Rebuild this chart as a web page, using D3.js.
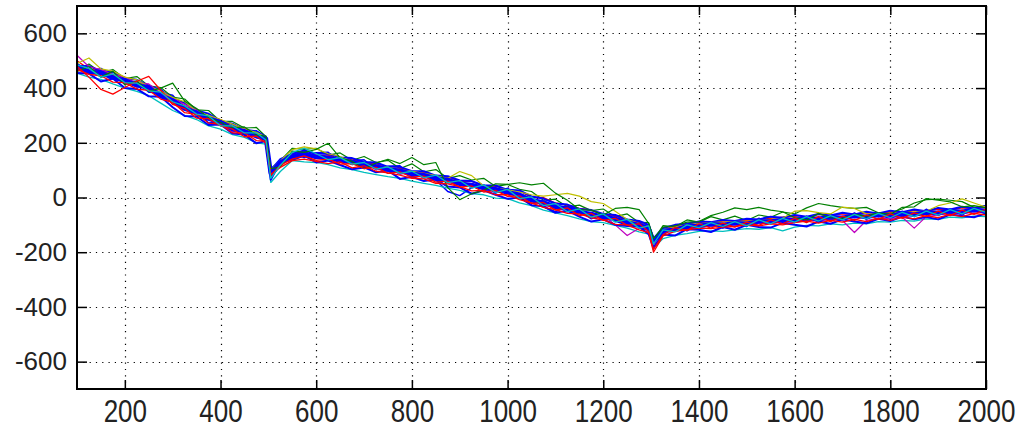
<!DOCTYPE html>
<html>
<head>
<meta charset="utf-8">
<script src="https://cdn.jsdelivr.net/npm/d3@7"></script>
<style>
  html, body { margin: 0; padding: 0; background: #fff; }
  svg { display: block; }
  .tick text { font-family: "Liberation Sans", Arial, sans-serif; font-size: 26px; fill: #222; }
</style>
</head>
<body>
<svg id="chart" width="1018" height="429"></svg>
<script>
// sample positions along the x axis (denser around the two steps)
const xs = [100, 125, 150, 175, 200, 225, 250, 275, 300, 325, 350, 375, 400, 425, 450, 475, 495, 505,
  525, 550, 575, 600, 625, 650, 675, 700, 725, 750, 775, 800, 825, 850, 875, 900, 925, 950, 975, 1000,
  1025, 1050, 1075, 1100, 1125, 1150, 1175, 1200, 1225, 1250, 1275, 1295, 1305,
  1325, 1350, 1375, 1400, 1425, 1450, 1475, 1500, 1525, 1550, 1575, 1600, 1625, 1650, 1675, 1700,
  1725, 1750, 1775, 1800, 1825, 1850, 1875, 1900, 1925, 1950, 1975, 2000];

const xTicks = [200, 400, 600, 800, 1000, 1200, 1400, 1600, 1800, 2000];
const yTicks = [-600, -400, -200, 0, 200, 400, 600];

const blueMean = [478, 460, 455, 438, 428, 410, 402, 372, 355, 325,
  310, 288, 275, 250, 242, 224, 215, 88, 128, 150,
  160, 148, 145, 135, 130, 118, 114, 102, 98, 86,
  82, 70, 64, 50, 46, 34, 30, 18, 10, -10,
  -18, -34, -40, -54, -60, -72, -78, -92, -100, -114,
  -160, -122, -118, -106, -104, -98, -100, -94, -96, -88,
  -88, -82, -82, -76, -78, -72, -74, -68, -70, -64,
  -66, -60, -62, -55, -56, -50, -52, -46, -48];

const blueA = [490, 458, 472, 445, 415, 424, 385, 384, 374, 322,
  318, 272, 277, 268, 228, 244, 218, 75, 115, 160,
  146, 164, 165, 129, 134, 138, 102, 114, 116, 76,
  90, 64, 22, 7, 36, 46, 16, 34, -2, 0,
  -34, -52, -30, -48, -78, -60, -86, -102, -95, -102,
  -180, -137, -105, -122, -90, -94, -112, -86, -106, -76,
  -96, -75, -92, -68, -90, -62, -82, -56, -80, -56,
  -80, -50, -70, -43, -66, -42, -64, -36, -54];

const blueB = [455, 453, 424, 435, 400, 397, 370, 368, 330, 298,
  296, 265, 267, 234, 230, 198, 206, 65, 130, 137,
  153, 128, 135, 119, 103, 110, 92, 99, 68, 76,
  60, 66, 40, 37, 14, 26, 10, -5, 0, -28,
  -32, -56, -48, -70, -88, -80, -100, -104, -107, -134,
  -185, -135, -139, -116, -118, -126, -108, -118, -100, -108,
  -110, -93, -100, -106, -88, -96, -80, -88, -94, -78,
  -86, -70, -80, -71, -80, -62, -68, -72, -58];

const blueC = [482, 480, 462, 458, 436, 430, 408, 394, 360, 346,
  318, 306, 280, 270, 248, 242, 222, 100, 140, 160,
  172, 160, 160, 146, 144, 130, 128, 112, 112, 96,
  96, 80, 78, 62, 60, 44, 44, 28, 26, 4,
  -4, -22, -26, -42, -46, -60, -64, -80, -86, -100,
  -150, -112, -100, -96, -88, -90, -82, -86, -78, -80,
  -70, -74, -64, -70, -60, -66, -56, -62, -52, -58,
  -48, -54, -44, -50, -38, -44, -34, -40, -30];

const greenA = [462, 478, 440, 462, 412, 425, 388, 400, 418, 352,
  325, 292, 275, 255, 258, 228, 224, 105, 112, 170,
  165, 176, 198, 145, 132, 105, 126, 140, 124, 146,
  120, 128, 36, -8, 14, 26, 50, 48, 54, 46,
  52, 16, -10, -44, -46, -64, -40, -36, -44, -95,
  -150, -108, -104, -90, -88, -66, -54, -38, -44, -36,
  -46, -52, -74, -82, -58, -74, -76, -62, -68, -56,
  -62, -36, -34, -4, -10, -16, -34, -30, -38];

const greenB = [465, 488, 457, 468, 435, 442, 408, 402, 367, 360,
  320, 318, 278, 278, 254, 256, 222, 105, 135, 180,
  176, 180, 155, 163, 136, 150, 128, 136, 106, 123,
  94, 102, 70, 80, 64, 70, 40, 48, 30, 22,
  -10, -6, -34, -28, -48, -42, -70, -60, -91, -92,
  -155, -103, -107, -82, -90, -70, -82, -68, -84, -64,
  -72, -53, -60, -38, -22, -30, -36, -40, -36, -56,
  -56, -42, -20, -8, -6, -10, -15, -36, -30];

const redA = [480, 440, 395, 378, 402, 425, 443, 392, 340, 325,
  290, 288, 262, 250, 222, 224, 198, 85, 110, 135,
  140, 132, 124, 130, 108, 116, 96, 90, 82, 70,
  68, 52, 50, 40, 24, 26, 10, 10, -8, -20,
  -36, -44, -58, -60, -74, -82, -98, -100, -118, -128,
  -200, -140, -124, -118, -112, -114, -108, -106, -100, -104,
  -96, -100, -92, -86, -94, -84, -90, -80, -88, -76,
  -84, -72, -78, -66, -74, -62, -70, -58, -64];

const redB = [500, 470, 462, 448, 432, 404, 412, 375, 360, 335,
  318, 296, 285, 258, 250, 232, 218, 95, 112, 160,
  168, 150, 156, 136, 142, 124, 124, 106, 108, 92,
  92, 74, 76, 58, 60, 40, 42, 24, 24, 0,
  0, -20, -28, -40, -46, -64, -68, -84, -90, -110,
  -170, -118, -104, -98, -90, -94, -86, -86, -84, -80,
  -76, -72, -70, -74, -62, -66, -60, -62, -56, -58,
  -52, -56, -48, -50, -42, -46, -38, -40, -36];

const redC = [468, 450, 445, 422, 420, 396, 392, 360, 348, 310,
  304, 272, 268, 236, 236, 208, 206, 80, 118, 140,
  152, 136, 140, 122, 124, 106, 110, 88, 94, 74,
  78, 56, 60, 38, 42, 20, 26, 4, 6, -22,
  -18, -46, -38, -66, -58, -84, -76, -102, -96, -124,
  -190, -136, -110, -120, -96, -112, -94, -108, -90, -102,
  -82, -96, -76, -92, -70, -88, -68, -84, -64, -80,
  -60, -76, -56, -70, -50, -66, -46, -62, -42];

const cyanA = [455, 440, 432, 415, 400, 388, 372, 345, 318, 300,
  285, 262, 250, 230, 220, 200, 195, 55, 95, 135,
  130, 128, 120, 108, 102, 92, 84, 76, 70, 60,
  52, 44, 34, 26, 14, 10, -2, -4, -20, -30,
  -46, -56, -66, -78, -88, -92, -102, -112, -126, -134,
  -185, -150, -138, -132, -124, -122, -124, -118, -114, -116,
  -110, -122, -108, -102, -104, -96, -100, -94, -96, -88,
  -90, -84, -86, -78, -80, -72, -74, -68, -70];

const cyanB = [485, 472, 440, 452, 420, 418, 390, 385, 350, 335,
  305, 298, 262, 262, 236, 236, 210, 70, 118, 165,
  180, 160, 138, 146, 122, 128, 104, 112, 88, 96,
  72, 82, 54, 62, 34, 46, 18, 30, -4, 2,
  -30, -22, -52, -42, -72, -60, -90, -80, -112, -104,
  -170, -118, -126, -100, -110, -92, -106, -88, -104, -82,
  -96, -76, -90, -70, -86, -66, -82, -62, -78, -58,
  -74, -54, -70, -50, -64, -44, -60, -40, -54];

const magenta = [520, 478, 468, 450, 440, 418, 415, 382, 365, 340,
  320, 296, 282, 240, 252, 232, 215, 85, 122, 158,
  150, 158, 134, 142, 120, 126, 102, 110, 84, 94,
  70, 78, 52, 58, 36, 42, 18, 26, -6, 0,
  -34, -24, -54, -44, -74, -64, -100, -139, -112, -120,
  -172, -128, -120, -114, -108, -104, -104, -98, -102, -96,
  -94, -90, -90, -84, -86, -80, -84, -128, -84, -76,
  -76, -72, -112, -70, -64, -58, -60, -52, -56];

const yellow = [490, 510, 470, 462, 440, 430, 405, 390, 365, 350,
  315, 300, 285, 268, 250, 238, 220, 100, 135, 175,
  185, 178, 160, 150, 130, 125, 116, 110, 102, 96,
  88, 80, 70, 95, 80, 42, 34, 28, 20, 10,
  5, 10, 15, 5, -15, -22, -50, -80, -95, -106,
  -160, -118, -108, -100, -96, -92, -90, -88, -86, -84,
  -80, -76, -50, -48, -55, -60, -35, -40, -60, -62,
  -58, -56, -52, -50, -30, -20, -5, -20, -35];

const black = [462, 466, 440, 446, 418, 420, 390, 382, 342, 336,
  298, 294, 262, 262, 232, 230, 204, 92, 122, 156,
  150, 156, 136, 142, 120, 124, 104, 108, 88, 92,
  72, 76, 54, 56, 36, 40, 20, 24, 0, -2,
  -26, -26, -50, -46, -70, -64, -88, -84, -110, -106,
  -165, -120, -120, -104, -108, -96, -104, -92, -100, -86,
  -92, -78, -86, -72, -82, -68, -78, -64, -74, -60,
  -70, -56, -66, -52, -60, -48, -56, -44, -52];

// MATLAB default colour order
const colors = {
  b: '#0000ff', g: '#008000', r: '#ff0000', c: '#00bfbf',
  m: '#bf00bf', y: '#bfbf00', k: '#404040'
};

const lines = [
  { values: blueA, color: colors.b, width: 1.5 },
  { values: greenB, color: colors.g, width: 1.2 },
  { values: redB, color: colors.r, width: 1.3 },
  { values: cyanA, color: colors.c, width: 1.3 },
  { values: black, color: colors.k, width: 1 },
  { values: blueC, color: colors.b, width: 2 },
  { values: magenta, color: colors.m, width: 1.2 },
  { values: yellow, color: colors.y, width: 1.2 },
  { values: blueMean, color: colors.b, width: 4.5 },
  { values: blueB, color: colors.b, width: 2 },
  { values: greenA, color: colors.g, width: 1.2 },
  { values: redA, color: colors.r, width: 1.3 },
  { values: redC, color: colors.r, width: 1.3 },
  { values: cyanB, color: colors.c, width: 1.3 }
];

const svg = d3.select('#chart');
const plotLeft = 77, plotRight = 986, plotTop = 6, plotBottom = 389;

const x = d3.scaleLinear().domain([100, 2000]).range([plotLeft, plotRight]);
const y = d3.scaleLinear().domain([-700, 700]).range([plotBottom, plotTop]);

// dotted grid
const grid = svg.append('g')
  .attr('stroke', '#000')
  .attr('stroke-width', 1.2)
  .attr('stroke-dasharray', '1.2,5.1');
grid.selectAll('line.vx').data(xTicks.filter(t => t < 2000)).join('line')
  .attr('x1', d => Math.round(x(d)) + 0.5).attr('x2', d => Math.round(x(d)) + 0.5)
  .attr('y1', plotBottom).attr('y2', plotTop);
grid.selectAll('line.hy').data(yTicks).join('line')
  .attr('y1', d => Math.round(y(d)) + 0.5).attr('y2', d => Math.round(y(d)) + 0.5)
  .attr('x1', plotLeft).attr('x2', plotRight);

// data lines
const plot = svg.append('g');
const line = d3.line()
  .x((d, i) => x(xs[i]))
  .y(d => y(d));

lines.forEach(s => {
  plot.append('path')
    .datum(s.values.slice(0, xs.length))
    .attr('fill', 'none')
    .attr('stroke', s.color)
    .attr('stroke-width', s.width)
    .attr('stroke-linejoin', 'round')
    .attr('d', line);
});

// axes with inward ticks on all four sides
const axisStyle = g => {
  g.select('.domain').remove();
  g.selectAll('.tick line').attr('stroke', '#000').attr('stroke-width', 1.5);
};
const plain = d => String(d);

svg.append('g')
  .attr('transform', `translate(0,${plotBottom})`)
  .call(d3.axisBottom(x).tickValues(xTicks).tickFormat(plain).tickSize(-9).tickSizeOuter(0).tickPadding(9))
  .call(axisStyle)
  .call(g => g.selectAll('.tick text').attr('transform', 'scale(1,1.2)'));

svg.append('g')
  .attr('transform', `translate(0,${plotTop})`)
  .call(d3.axisTop(x).tickValues(xTicks).tickSize(-9).tickSizeOuter(0).tickFormat(''))
  .call(axisStyle);

svg.append('g')
  .attr('transform', `translate(${plotLeft},0)`)
  .call(d3.axisLeft(y).tickValues(yTicks).tickFormat(plain).tickSize(-10).tickSizeOuter(0).tickPadding(10))
  .call(axisStyle);

svg.append('g')
  .attr('transform', `translate(${plotRight},0)`)
  .call(d3.axisRight(y).tickValues(yTicks).tickSize(-10).tickSizeOuter(0).tickFormat(''))
  .call(axisStyle);

// box
svg.append('rect')
  .attr('x', plotLeft).attr('y', plotTop)
  .attr('width', plotRight - plotLeft).attr('height', plotBottom - plotTop)
  .attr('fill', 'none')
  .attr('stroke', '#000')
  .attr('stroke-width', 2);
</script>
</body>
</html>
